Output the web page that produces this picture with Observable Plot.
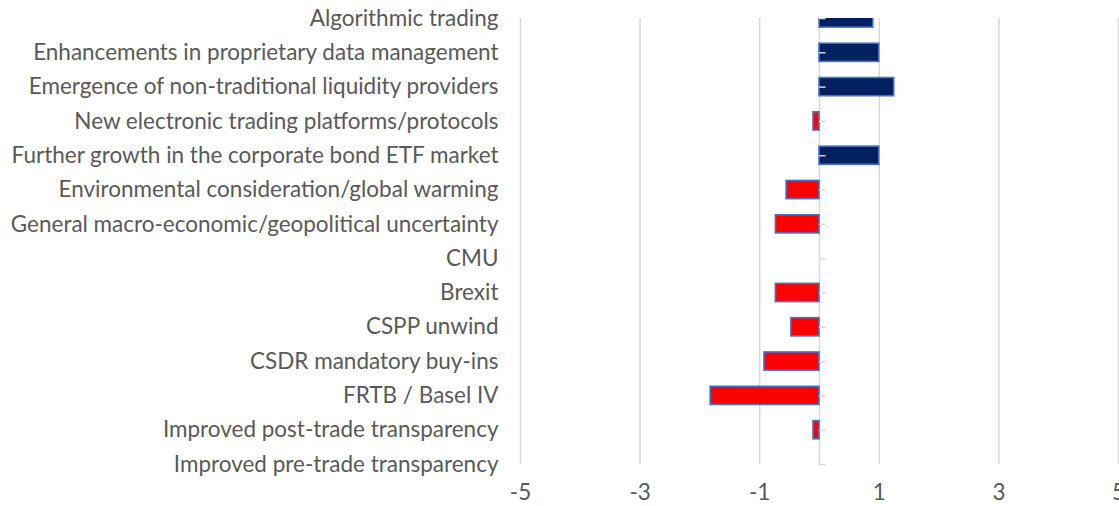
<!DOCTYPE html>
<html>
<head>
<meta charset="utf-8">
<script src="https://cdn.jsdelivr.net/npm/d3@7"></script>
<script src="https://cdn.jsdelivr.net/npm/@observablehq/plot@0.6"></script>
<style>
  html, body { margin: 0; padding: 0; background: #ffffff; }
  #chart { width: 1119px; height: 506px; overflow: hidden; }
</style>
</head>
<body>
<div id="chart"></div>
<script>
// Categories, top to bottom
const categories = [
  "Algorithmic trading",
  "Enhancements in proprietary data management",
  "Emergence of non-traditional liquidity providers",
  "New electronic trading platforms/protocols",
  "Further growth in the corporate bond ETF market",
  "Environmental consideration/global warming",
  "General macro-economic/geopolitical uncertainty",
  "CMU",
  "Brexit",
  "CSPP unwind",
  "CSDR mandatory buy-ins",
  "FRTB / Basel IV",
  "Improved post-trade transparency",
  "Improved pre-trade transparency"
];
// Net impact scores
const values = [0.9, 1.0, 1.25, -0.1, 1.0, -0.55, -0.73, 0, -0.73, -0.47, -0.92, -1.82, -0.1, 0];
// X axis tick values
const xTicks = [-5, -3, -1, 1, 3, 5];

const data = categories.map((c, i) => ({cat: c, value: values[i], i}));
const idx = categories.map((c, i) => i);

// Fit font size so the longest label width matches the reference
const fontFamily = "Lato, 'Open Sans', sans-serif";
const ctx = document.createElement("canvas").getContext("2d");
ctx.font = "100px Lato";
const w = ctx.measureText("General macro-economic/geopolitical uncertainty").width;
const fontSize = Math.max(14, Math.min(24, 100 * 488 / w));

const plot = Plot.plot({
  width: 1119,
  height: 506,
  marginLeft: 520,
  marginRight: 1,
  marginTop: 18,
  marginBottom: 42,
  style: {fontFamily, fontSize: fontSize + "px", color: "#595959", background: "#ffffff", overflow: "hidden"},
  x: {domain: [-5, 5]},
  y: {domain: [0, 13], reverse: true},
  marks: [
    Plot.ruleX(xTicks, {stroke: "#d9d9d9", strokeWidth: 1.5}),
    Plot.ruleX([0], {stroke: "#d9d9d9", strokeWidth: 1.5}),
    Plot.rectX(data, {
      x1: 0,
      x2: "value",
      y1: d => d.i - 0.265,
      y2: d => d.i + 0.265,
      fill: d => d.value > 0 ? "#002060" : "#FF0000",
      stroke: "#4472C4",
      strokeWidth: 1.6,
      clip: true
    }),
    Plot.ruleY(idx, {y: d => d, x1: 0, x2: 0.11, stroke: "#d9d9d9", strokeWidth: 1.5}),
    Plot.axisY({ticks: idx, tickFormat: i => categories[i], tickSize: 0, tickPadding: 22, label: null, fill: "#595959"}),
    Plot.axisX({ticks: xTicks, tickFormat: d => String(d), tickSize: 0, tickPadding: 20, label: null, fill: "#595959"})
  ]
});
document.getElementById("chart").appendChild(plot);
</script>
</body>
</html>
